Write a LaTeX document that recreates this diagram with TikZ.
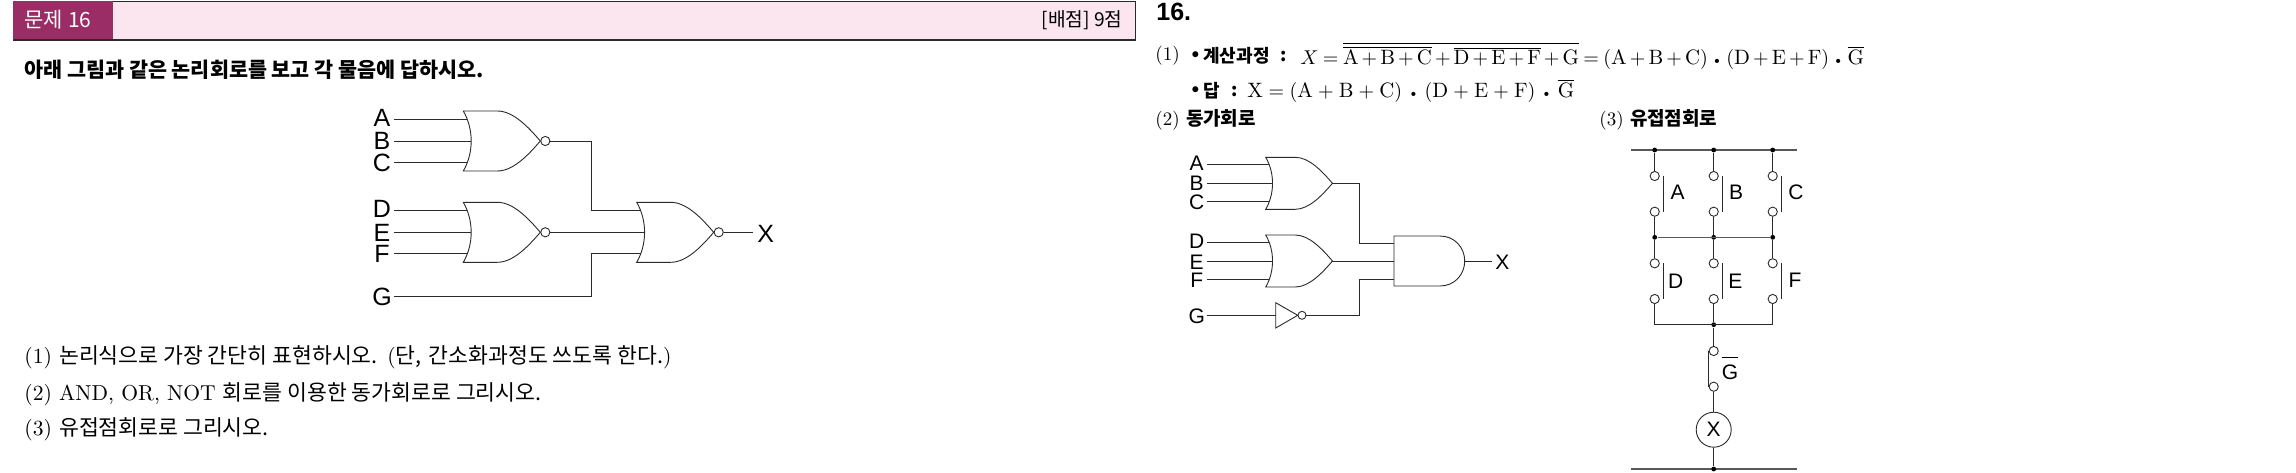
\documentclass[tikz,border=0pt]{standalone}
\usepackage{fontspec}
\usepackage{amsmath}
\usetikzlibrary{calc}
\setsansfont{Liberation Sans}
\newfontfamily\krfont{Noto Sans CJK KR}
\definecolor{headpink}{HTML}{FBE6F0}
\definecolor{headplum}{HTML}{9A2D66}
\definecolor{inkline}{HTML}{2A2A2A}
\newcommand{\dotop}{\mathbin{\mbox{\fontsize{7}{7}\selectfont\textbullet}}}

\tikzset{
  wire/.style   = {draw=inkline, line width=0.5pt},
  bus/.style    = {draw=black!65, line width=0.8pt},
  gate/.style   = {draw=inkline, line width=0.45pt, fill=white},
  bubble/.style = {circle, gate, inner sep=0pt, minimum size=4.6pt},
  jdot/.style   = {circle, fill=black, inner sep=0pt, minimum size=2.4pt},
  sigbig/.style = {font=\sffamily\fontsize{12.5}{13}\selectfont, inner sep=0pt, minimum width=12pt},
  sigsm/.style  = {font=\sffamily\fontsize{10.5}{11}\selectfont, inner sep=0pt, minimum width=10pt},
  txt/.style    = {anchor=west, inner sep=0pt, font=\fontsize{10.8}{12}\selectfont},
  ans/.style    = {anchor=west, inner sep=0pt, font=\fontsize{10.4}{12}\selectfont},
  anskr/.style  = {anchor=west, inner sep=0pt, font=\krfont\bfseries\fontsize{9}{10}\selectfont},
  orgate/.pic = {
    \draw[gate] (0,-30) .. controls (10.5,-12) and (10.5,12) .. (0,30)
      -- (34,30) .. controls (50,30) and (65,14) .. (77,0)
      .. controls (65,-14) and (50,-30) .. (34,-30) -- cycle;
    \coordinate (-a) at (4,-21.5);
    \coordinate (-b) at (8,0);
    \coordinate (-c) at (4,21.5);
    \coordinate (-out) at (77,0);
  },
  norgate/.pic = {
    \pic {orgate};
    \coordinate (-a) at (4,-21.5);
    \coordinate (-b) at (8,0);
    \coordinate (-c) at (4,21.5);
    \node[bubble] (-n) at (82,0) {};
  }
}

\begin{document}
\begin{tikzpicture}[x=0.5pt, y=-0.5pt]
\useasboundingbox (0,0) rectangle (2296,472);

% ---- header bar ----
\node[draw=inkline, fill=headpink, line width=0.6pt, minimum width=561pt, minimum height=19.4pt,
  inner sep=0pt, anchor=north west] (bar) at (12.5,0.5) {};
\node[fill=headplum, minimum width=50pt, minimum height=18.8pt, inner sep=0pt,
  anchor=north west] (tag) at (13,1) {};
\node[text=white, inner sep=0pt, font=\krfont\fontsize{10.5}{11}\selectfont] (tagtxt) at (58,20) {문제 16};
\node[inner sep=0pt, anchor=east, font=\krfont\fontsize{9.6}{10}\selectfont] (pts) at (1123,20) {[배점] 9점};

% ---- question ----
\node[txt, font=\krfont\bfseries\fontsize{10.35}{12}\selectfont] (q0) at (24,70)
  {아래 그림과 같은 논리회로를 보고 각 물음에 답하시오.};
\node[txt] (q1) at (24,357) {(1) {\krfont 논리식으로 가장 간단히 표현하시오.} ({\krfont 단,} {\krfont 간소화과정도 쓰도록 한다.})};
\node[txt] (q2) at (24,394) {(2) AND, OR, NOT {\krfont 회로를 이용한 동가회로로 그리시오.}};
\node[txt] (q3) at (24,429) {(3) {\krfont 유접점회로로 그리시오.}};

% ---- first circuit ----
\pic (g1) at (463.3,141) {norgate};
\pic (g2) at (463.3,232.3) {norgate};
\pic (g3) at (636.7,232.3) {norgate};

\node[sigbig] (a1) at (382,118) {A};
\node[sigbig] (b1) at (382,141) {B};
\node[sigbig] (c1) at (382,163) {C};
\node[sigbig] (d1) at (382,209) {D};
\node[sigbig] (e1) at (382,233) {E};
\node[sigbig] (f1) at (382,254) {F};
\node[sigbig] (g1in) at (382,296.5) {G};
\node[sigbig] (x1) at (765.7,234) {X};

\draw[wire] (a1.east |- g1-a) -- (g1-a);
\draw[wire] (b1.east |- g1-b) -- (g1-b);
\draw[wire] (c1.east |- g1-c) -- (g1-c);
\draw[wire] (d1.east |- g2-a) -- (g2-a);
\draw[wire] (e1.east |- g2-b) -- (g2-b);
\draw[wire] (f1.east |- g2-c) -- (g2-c);

\coordinate (j1) at (591,210.8);
\coordinate (j2) at (591,253.8);
\draw[wire] (g1-n) -| (j1) -- (g3-a);
\draw[wire] (g2-n) -- (g3-b);
\draw[wire] (g1in.east) -| (j2) -- (g3-c);
\draw[wire] (g3-n) -- (x1.west |- g3-n);

% ---- answer text ----
\node[txt, font=\sffamily\bfseries\fontsize{12.5}{13}\selectfont] (a0) at (1156,12) {16.};
\node[ans, font=\fontsize{9.6}{12}\selectfont] (s1) at (1155,56) {(1)};
\node[ans] (s1b) at (1187,56) {\textbullet};
\node[anskr] (s1k) at (1203,56) {계산과정};
\node[anskr] (s1c) at (1280,56) {:};
\node[ans] (s1m) at (1300,56) {$\medmuskip=1.4mu\thickmuskip=3mu
  X=\overline{\overline{\mathrm{A+B+C}}+\overline{\mathrm{D+E+F}}+\mathrm{G}}
  \medmuskip=2.8mu\thickmuskip=4mu
  =(\mathrm{A+B+C})\dotop(\mathrm{D+E+F})\dotop\overline{\mathrm{G}}$};
\node[ans] (s2b) at (1187,91) {\textbullet};
\node[anskr] (s2k) at (1203,91) {답};
\node[anskr] (s2c) at (1231,91) {:};
\node[ans] (s2m) at (1247,91) {$\medmuskip=4.6mu
  \mathrm{X}=(\mathrm{A+B+C})\dotop(\mathrm{D+E+F})\dotop\overline{\mathrm{G}}$};
\node[txt, font=\fontsize{9.5}{12}\selectfont] (s3) at (1155,120) {(2) {\krfont\bfseries 동가회로}};
\node[txt, font=\fontsize{9.5}{12}\selectfont] (s4) at (1599,120) {(3) {\krfont\bfseries 유접점회로}};

% ---- equivalent circuit ----
\pic[scale=0.8667] (h1) at (1265.7,183.3) {orgate};
\pic[scale=0.8667] (h2) at (1265.7,261) {orgate};

\draw[gate] (1394,236) -- (1440,236) .. controls (1455,236) and (1464.7,248) .. (1464.7,261)
  .. controls (1464.7,274) and (1455,286) .. (1440,286) -- (1394,286) -- cycle;
\coordinate (ha) at (1394,243.5);
\coordinate (hb) at (1394,261);
\coordinate (hc) at (1394,279.5);
\coordinate (hout) at (1464.7,261);

\draw[gate] (1275.7,302.7) -- (1297.7,315.3) -- (1275.7,328) -- cycle;
\coordinate (notin) at (1275.7,315.3);
\node[bubble, minimum size=4pt] (notb) at (1302,315.3) {};

\node[sigsm] (a2) at (1196.7,163) {A};
\node[sigsm] (b2) at (1196.7,183) {B};
\node[sigsm] (c2) at (1196.7,202) {C};
\node[sigsm] (d2) at (1196.7,241.7) {D};
\node[sigsm] (e2) at (1196.7,262) {E};
\node[sigsm] (f2) at (1196.7,280.7) {F};
\node[sigsm] (g2in) at (1196.7,316.7) {G};
\node[sigsm] (x2) at (1502.3,262) {X};

\draw[wire] (a2.east |- h1-a) -- (h1-a);
\draw[wire] (b2.east |- h1-b) -- (h1-b);
\draw[wire] (c2.east |- h1-c) -- (h1-c);
\draw[wire] (d2.east |- h2-a) -- (h2-a);
\draw[wire] (e2.east |- h2-b) -- (h2-b);
\draw[wire] (f2.east |- h2-c) -- (h2-c);

\coordinate (k1) at (1359.7,243.5);
\coordinate (k2) at (1359.7,279.5);
\draw[wire] (h1-out) -| (k1) -- (ha);
\draw[wire] (h2-out) -- (hb);
\draw[wire] (notb) -| (k2) -- (hc);
\draw[wire] (g2in.east |- notin) -- (notin);
\draw[wire] (hout) -- (x2.west |- hout);

% ---- contact circuit ----
\def\colA{1654.7}
\def\colB{1713.7}
\def\colC{1772.7}

\node[inner sep=0pt] (t0) at (1630,150) {};
\node[inner sep=0pt] (t9) at (1798,150) {};
\node[inner sep=0pt] (b0) at (1630,469) {};
\node[inner sep=0pt] (b9) at (1798,469) {};
\draw[bus] (t0) -- (t9);
\draw[bus] (b0) -- (b9);

\node[jdot] (ta) at (\colA,150) {};
\node[jdot] (tb) at (\colB,150) {};
\node[jdot] (tc) at (\colC,150) {};
\node[jdot] (ma) at (\colA,237.3) {};
\node[jdot] (mb) at (\colB,237.3) {};
\node[jdot] (mc) at (\colC,237.3) {};
\node[jdot] (lb) at (\colB,324.7) {};
\node[jdot] (eb) at (\colB,469) {};
\coordinate (la) at (\colA,324.7);
\coordinate (lc) at (\colC,324.7);

\node[bubble] (ca1) at (\colA,176) {};
\node[bubble] (ca2) at (\colA,211.7) {};
\node[bubble] (cb1) at (\colB,176) {};
\node[bubble] (cb2) at (\colB,211.7) {};
\node[bubble] (cc1) at (\colC,176) {};
\node[bubble] (cc2) at (\colC,211.7) {};
\node[bubble] (cd1) at (\colA,263.3) {};
\node[bubble] (cd2) at (\colA,299) {};
\node[bubble] (ce1) at (\colB,263.3) {};
\node[bubble] (ce2) at (\colB,299) {};
\node[bubble] (cf1) at (\colC,263.3) {};
\node[bubble] (cf2) at (\colC,299) {};
\node[bubble] (cg1) at (\colB,351) {};
\node[bubble] (cg2) at (\colB,386.7) {};
\node[circle, gate, inner sep=0pt, minimum size=17.5pt, font=\sffamily\fontsize{10.5}{11}\selectfont] (lamp) at (\colB,429.7) {X};

\draw[wire] (ta) -- (ca1);
\draw[wire] (tb) -- (cb1);
\draw[wire] (tc) -- (cc1);
\draw[wire] (ca2) -- (ma);
\draw[wire] (cb2) -- (mb);
\draw[wire] (cc2) -- (mc);
\draw[bus] (ma) -- (mc);
\draw[wire] (ma) -- (cd1);
\draw[wire] (mb) -- (ce1);
\draw[wire] (mc) -- (cf1);
\draw[wire] (cd2) -- (la) -- (lc) -- (cf2);
\draw[wire] (ce2) -- (lb);
\draw[wire] (lb) -- (cg1);
\draw[wire] (cg2) -- (lamp);
\draw[wire] (lamp) -- (eb);

% contact bars
\draw[wire] ([xshift=4.5pt]ca1.center) -- ([xshift=4.5pt]ca2.center);
\draw[wire] ([xshift=4.5pt]cb1.center) -- ([xshift=4.5pt]cb2.center);
\draw[wire] ([xshift=4.5pt]cc1.center) -- ([xshift=4.5pt]cc2.center);
\draw[wire] ([xshift=4.5pt]cd1.center) -- ([xshift=4.5pt]cd2.center);
\draw[wire] ([xshift=4.5pt]ce1.center) -- ([xshift=4.5pt]ce2.center);
\draw[wire] ([xshift=4.5pt]cf1.center) -- ([xshift=4.5pt]cf2.center);
\draw[wire] (cg1.west) -- (cg2.west);

\node[sigsm] (la1) at (1677.7,192.3) {A};
\node[sigsm] (lb1) at (1736,192.3) {B};
\node[sigsm] (lc1) at (1796,192.3) {C};
\node[sigsm] (ld1) at (1675.7,281.7) {D};
\node[sigsm] (le1) at (1735.3,281.7) {E};
\node[sigsm] (lf1) at (1795,280) {F};
\node[sigsm] (lg1) at (1730,368) {$\overline{\rule{0pt}{9.6pt}\mbox{G}}$};
\end{tikzpicture}
\end{document}
